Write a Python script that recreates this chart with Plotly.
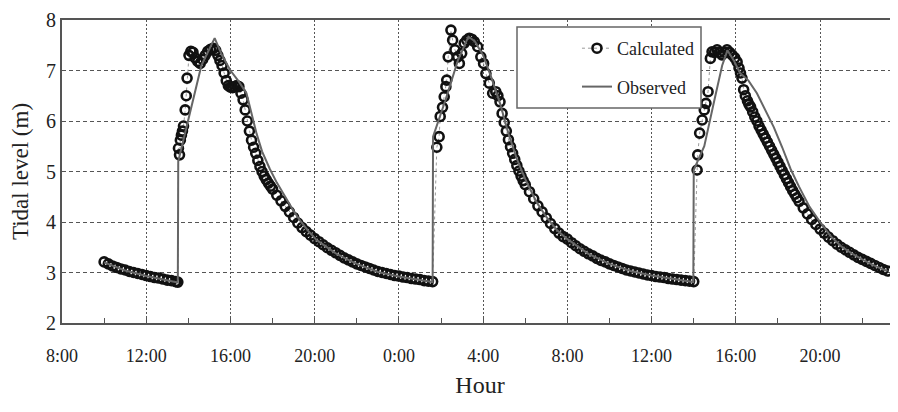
import plotly.graph_objects as go

# ---- data (hours counted from 0:00 of day 1; 24 = 0:00 of day 2) ----
calc_hours = [
    10.0, 10.2, 10.4, 10.6, 10.8, 11.0, 11.2, 11.4, 11.6, 11.8, 12.0, 12.2, 12.4, 12.6, 12.8,
    13.0, 13.2, 13.4, 13.5,
    13.53, 13.58, 13.62, 13.67, 13.72, 13.77, 13.85, 13.90, 13.94, 14.03, 14.12, 14.22, 14.32,
    14.45, 14.56, 14.68, 14.80, 14.92, 15.05, 15.18, 15.30, 15.40, 15.50, 15.60, 15.70, 15.80,
    15.90, 16.00, 16.10, 16.20, 16.30, 16.40, 16.50, 16.60, 16.70, 16.80, 16.90, 17.00, 17.10,
    17.20, 17.30, 17.40, 17.50, 17.60, 17.70, 17.80, 17.90, 18.00,
    18.2, 18.4, 18.6, 18.8, 19.0, 19.2, 19.4, 19.6, 19.8, 20.0, 20.2, 20.4, 20.6, 20.8, 21.0,
    21.2, 21.4, 21.6, 21.8, 22.0, 22.2, 22.4, 22.6, 22.8, 23.0, 23.2, 23.4, 23.6, 23.8, 24.0,
    24.2, 24.4, 24.6, 24.8, 25.0, 25.2, 25.4, 25.6,
    25.80, 25.91, 25.96, 26.07, 26.15, 26.23, 26.27, 26.34, 26.47, 26.55, 26.66, 26.79, 26.87,
    26.98, 27.10, 27.22, 27.34, 27.46, 27.58, 27.74, 27.89, 28.02, 28.13, 28.29, 28.45, 28.60,
    28.70, 28.80, 28.90, 29.00, 29.10, 29.20, 29.30, 29.40, 29.50, 29.60, 29.70, 29.80, 29.90,
    30.00, 30.2, 30.4, 30.6, 30.8, 31.0, 31.2, 31.4, 31.6, 31.8, 32.0, 32.2, 32.4, 32.6, 32.8,
    33.0, 33.2, 33.4, 33.6, 33.8, 34.0, 34.2, 34.4, 34.6, 34.8, 35.0, 35.2, 35.4, 35.6, 35.8,
    36.0, 36.2, 36.4, 36.6, 36.8, 37.0, 37.2, 37.4, 37.6, 37.8, 38.0,
    38.16, 38.19, 38.28, 38.40, 38.50, 38.58, 38.68, 38.79, 38.87, 38.99, 39.11, 39.22, 39.34,
    39.46, 39.58, 39.70, 39.82, 39.95, 40.06, 40.15, 40.22, 40.29, 40.37, 40.45, 40.55, 40.62,
    40.70, 40.8, 40.9, 41.0, 41.1, 41.2, 41.3, 41.4, 41.5, 41.6, 41.7, 41.8, 41.9, 42.0, 42.1,
    42.2, 42.3, 42.4, 42.5, 42.6, 42.7, 42.8, 42.9, 43.0, 43.2, 43.4, 43.6, 43.8, 44.0, 44.2,
    44.4, 44.6, 44.8, 45.0, 45.2, 45.4, 45.6, 45.8, 46.0, 46.2, 46.4, 46.6, 46.8, 47.0, 47.2,
]
calc_level = [
    3.21, 3.17, 3.13, 3.10, 3.07, 3.05, 3.02, 3.00, 2.98, 2.96, 2.94, 2.92, 2.90, 2.89, 2.87,
    2.85, 2.84, 2.82, 2.81,
    5.46, 5.33, 5.62, 5.72, 5.80, 5.90, 6.22, 6.50, 6.85, 7.30, 7.38, 7.36, 7.25,
    7.18, 7.14, 7.22, 7.30, 7.38, 7.42, 7.44, 7.40, 7.30, 7.20, 7.10, 6.95, 6.80,
    6.70, 6.67, 6.66, 6.68, 6.70, 6.68, 6.55, 6.42, 6.22, 6.00, 5.80, 5.62, 5.48,
    5.36, 5.22, 5.10, 5.00, 4.91, 4.84, 4.77, 4.71, 4.65,
    4.53, 4.42, 4.31, 4.20, 4.09, 3.98, 3.89, 3.81, 3.74, 3.67, 3.61, 3.55, 3.49, 3.44, 3.39,
    3.34, 3.29, 3.25, 3.21, 3.17, 3.14, 3.11, 3.08, 3.05, 3.02, 3.00, 2.98, 2.96, 2.94, 2.93,
    2.91, 2.90, 2.88, 2.87, 2.86, 2.84, 2.83, 2.82,
    5.48, 5.69, 6.09, 6.27, 6.48, 6.68, 6.81, 7.27, 7.80, 7.60, 7.41, 7.27, 7.14,
    7.34, 7.54, 7.60, 7.64, 7.62, 7.57, 7.47, 7.27, 7.14, 6.94, 6.75, 6.55, 6.58,
    6.50, 6.38, 6.15, 5.97, 5.80, 5.63, 5.49, 5.36, 5.24, 5.12, 5.01, 4.91, 4.82,
    4.74, 4.60, 4.46, 4.32, 4.20, 4.08, 3.97, 3.87, 3.78, 3.71, 3.66, 3.59, 3.53, 3.47, 3.42,
    3.37, 3.33, 3.28, 3.24, 3.21, 3.17, 3.14, 3.11, 3.08, 3.05, 3.03, 3.01, 2.99, 2.97, 2.95,
    2.94, 2.92, 2.91, 2.90, 2.88, 2.87, 2.86, 2.85, 2.84, 2.83, 2.82,
    5.03, 5.33, 5.76, 6.02, 6.22, 6.35, 6.58, 7.24, 7.37, 7.36, 7.41, 7.36, 7.31,
    7.36, 7.41, 7.36, 7.31, 7.25, 7.17, 7.05, 6.95, 6.85, 6.62, 6.50, 6.40, 6.33,
    6.28, 6.18, 6.08, 6.00, 5.90, 5.82, 5.74, 5.66, 5.58, 5.50, 5.42, 5.34, 5.26, 5.18, 5.10,
    5.02, 4.94, 4.86, 4.78, 4.70, 4.62, 4.55, 4.48, 4.41, 4.28, 4.16, 4.05, 3.95, 3.86, 3.78,
    3.70, 3.63, 3.56, 3.50, 3.45, 3.40, 3.35, 3.30, 3.26, 3.22, 3.18, 3.14, 3.10, 3.06, 3.03,
]

obs_hours = [
    10.0, 11.0, 12.0, 13.0, 13.5, 13.52, 14.62, 15.25, 15.6, 16.0, 16.4, 16.76, 17.0, 17.24,
    17.5, 17.87, 18.2, 18.5, 19.0, 19.3, 19.7, 20.1, 20.5, 21.0, 21.5, 22.0, 23.0, 24.0, 25.0,
    25.6, 25.62, 26.2, 26.8, 27.3, 27.6, 28.0, 28.4, 28.8, 29.2, 29.6, 30.0, 30.5, 31.0, 31.5,
    32.0, 33.0, 34.0, 35.0, 36.0, 37.0, 37.98, 38.0, 38.5, 39.0, 39.35, 39.6, 39.9, 40.2, 40.6,
    41.0, 41.4, 41.8, 42.2, 42.6, 43.0, 43.5, 44.0, 44.5, 45.0, 45.5, 46.0, 46.5, 47.0, 47.2,
]
obs_level = [
    3.20, 3.04, 2.93, 2.85, 2.80, 5.20, 7.10, 7.64, 7.30, 7.00, 6.78, 6.55, 6.15, 5.75,
    5.40, 5.05, 4.78, 4.56, 4.22, 4.03, 3.82, 3.64, 3.52, 3.38, 3.27, 3.17, 3.01, 2.92, 2.85,
    2.81, 5.69, 6.40, 7.20, 7.67, 7.58, 7.30, 6.85, 6.35, 5.75, 5.25, 4.85, 4.42, 4.10, 3.84,
    3.66, 3.37, 3.17, 3.03, 2.94, 2.87, 2.81, 5.03, 5.50, 6.45, 7.10, 7.40, 7.20, 6.95, 6.80,
    6.55, 6.20, 5.88, 5.48, 5.05, 4.70, 4.30, 4.00, 3.72, 3.52, 3.38, 3.26, 3.15, 3.06, 3.03,
]

tick_hours = [8, 12, 16, 20, 24, 28, 32, 36, 40, 44]
tick_labels = ["8:00", "12:00", "16:00", "20:00", "0:00", "4:00", "8:00", "12:00", "16:00", "20:00"]

SERIF = "Liberation Serif, Times New Roman, serif"

fig = go.Figure()
fig.add_trace(go.Scatter(
    x=calc_hours, y=calc_level, name="Calculated", mode="lines+markers",
    legendgroup="c",
    line=dict(color="#9a9a9a", width=1, dash="dot"),
    marker=dict(symbol="circle-open", size=9, color="#111111", line=dict(width=2.6, color="#111111")),
))
fig.add_trace(go.Scatter(
    x=obs_hours, y=obs_level, name="Observed", mode="lines",
    legendgroup="o",
    line=dict(color="#666666", width=2),
))

# the page places the figure 8 px from the top-left corner of the window
fig.update_layout(
    width=890, height=404,
    margin=dict(l=54, r=0, t=12, b=89, autoexpand=False),
    paper_bgcolor="white", plot_bgcolor="white",
    font=dict(family=SERIF, color="#222222", size=18),
    showlegend=True,
    legend=dict(
        x=0.616, y=0.967, xanchor="left", yanchor="top",
        bgcolor="rgba(0,0,0,0)", borderwidth=0,
        font=dict(family=SERIF, size=18, color="#222222"),
        tracegroupgap=12,
    ),
    shapes=[dict(
        type="rect", xref="paper", yref="paper",
        x0=(517 - 62) / 836, x1=(701 - 62) / 836,
        y0=(323 - 108) / 303, y1=(323 - 27) / 303,
        line=dict(color="#666666", width=1.5), fillcolor="white", layer="above",
    )],
)

fig.update_xaxes(
    range=[8, 47.7], automargin=False,
    tickmode="array", tickvals=tick_hours, ticktext=tick_labels,
    ticks="inside", ticklen=5, tickcolor="#555555",
    ticklabelstandoff=15,
    minor=dict(dtick=2, tick0=8, ticks="inside", ticklen=5, tickcolor="#555555", showgrid=False),
    showgrid=True, gridcolor="#555555", gridwidth=1, griddash="2px,2px",
    showline=True, linecolor="#555555", linewidth=2, mirror=True,
    zeroline=False,
    tickfont=dict(family=SERIF, size=18, color="#222222"),
    title=dict(text="Hour", font=dict(family=SERIF, size=24, color="#222222"), standoff=12),
)
fig.update_yaxes(
    range=[2, 8], dtick=1, automargin=False,
    ticks="", showgrid=True, gridcolor="#555555", gridwidth=1, griddash="4px,3px",
    showline=True, linecolor="#555555", linewidth=2, mirror=False,
    zeroline=False,
    tickfont=dict(family=SERIF, size=20, color="#222222"),
    title=dict(text="Tidal level (m)", font=dict(family=SERIF, size=23, color="#222222"), standoff=12),
)

fig.write_html("out.html")
